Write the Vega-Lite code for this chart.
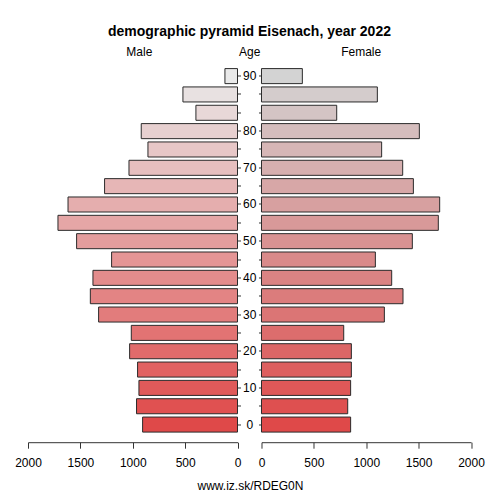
{
  "$schema": "https://vega.github.io/schema/vega-lite/v6.json",
  "padding": {"left": 14, "right": 10, "top": 24.5, "bottom": 5},
  "title": {"text": "demographic pyramid Eisenach, year 2022", "font": "Liberation Sans", "fontSize": 14, "fontWeight": "bold", "color": "#000", "anchor": "middle", "offset": 6},
  "config": {
    "view": {"stroke": null},
    "font": "Liberation Sans",
    "axis": {
      "labelFont": "Liberation Sans", "labelFontSize": 12, "labelColor": "#000",
      "titleFont": "Liberation Sans", "titleFontSize": 12, "titleFontWeight": "normal", "titleColor": "#000",
      "titleAngle": 0, "titleAlign": "center", "titleBaseline": "middle",
      "domainColor": "#333", "tickColor": "#333", "grid": false
    }
  },
  "data": {
    "values": [
      {"row": 0, "male": 906, "female": 851},
      {"row": 1, "male": 964, "female": 823},
      {"row": 2, "male": 941, "female": 851},
      {"row": 3, "male": 954, "female": 858},
      {"row": 4, "male": 1030, "female": 858},
      {"row": 5, "male": 1014, "female": 785},
      {"row": 6, "male": 1326, "female": 1173},
      {"row": 7, "male": 1405, "female": 1351},
      {"row": 8, "male": 1380, "female": 1243},
      {"row": 9, "male": 1202, "female": 1087},
      {"row": 10, "male": 1536, "female": 1440},
      {"row": 11, "male": 1714, "female": 1688},
      {"row": 12, "male": 1618, "female": 1701},
      {"row": 13, "male": 1269, "female": 1450},
      {"row": 14, "male": 1036, "female": 1348},
      {"row": 15, "male": 855, "female": 1147},
      {"row": 16, "male": 919, "female": 1507},
      {"row": 17, "male": 397, "female": 718},
      {"row": 18, "male": 521, "female": 1106},
      {"row": 19, "male": 120, "female": 390}
    ]
  },
  "bounds": "flush",
  "spacing": 23.5,
  "hconcat": [
    {
      "width": 209.5,
      "height": 383.7,
      "mark": {"type": "bar", "stroke": "#2a2a2a", "strokeWidth": 1},
      "encoding": {
        "y": {
          "field": "row", "type": "ordinal", "sort": "descending",
          "scale": {"paddingInner": 0.18, "paddingOuter": 0.55},
          "axis": {
            "orient": "right", "domain": false, "tickSize": 3,
            "labelAlign": "center", "labelBaseline": "middle", "labelPadding": 8.75,
            "labelExpr": "datum.value == 19 ? '90' : (datum.value % 2 == 0 && datum.value <= 16 ? '' + datum.value * 5 : '')",
            "title": "Age", "titleX": 11.75, "titleY": -7.3
          }
        },
        "x": {
          "field": "male", "type": "quantitative",
          "scale": {"domain": [0, 2000], "reverse": true, "nice": false},
          "axis": {
            "values": [0, 500, 1000, 1500, 2000], "format": "d", "tickSize": 6, "labelPadding": 9,
            "labelFlush": false, "labelOverlap": false,
            "title": "Male", "titleX": 110.8, "titleY": -391
          }
        },
        "color": {
          "field": "row", "type": "quantitative",
          "scale": {"domain": [0, 19], "range": ["#df4949", "#e9e9e9"], "interpolate": "rgb"},
          "legend": null
        }
      }
    },
    {
      "width": 209.5,
      "height": 383.7,
      "mark": {"type": "bar", "stroke": "#2a2a2a", "strokeWidth": 1},
      "encoding": {
        "y": {
          "field": "row", "type": "ordinal", "sort": "descending",
          "scale": {"paddingInner": 0.18, "paddingOuter": 0.55},
          "axis": {
            "orient": "left", "domain": false, "tickSize": 3, "labels": false,
            "title": "Female", "titleX": 99.2, "titleY": -7.3
          }
        },
        "x": {
          "field": "female", "type": "quantitative",
          "scale": {"domain": [0, 2000], "nice": false},
          "axis": {
            "values": [0, 500, 1000, 1500, 2000], "format": "d", "tickSize": 6, "labelPadding": 9,
            "labelFlush": false, "labelOverlap": false,
            "title": "www.iz.sk/RDEG0N", "titleX": -11.5, "titleY": 43.3
          }
        },
        "color": {
          "field": "row", "type": "quantitative",
          "scale": {"domain": [0, 19], "range": ["#df4949", "#d3d3d3"], "interpolate": "rgb"},
          "legend": null
        }
      }
    }
  ],
  "resolve": {"scale": {"color": "independent"}}
}
